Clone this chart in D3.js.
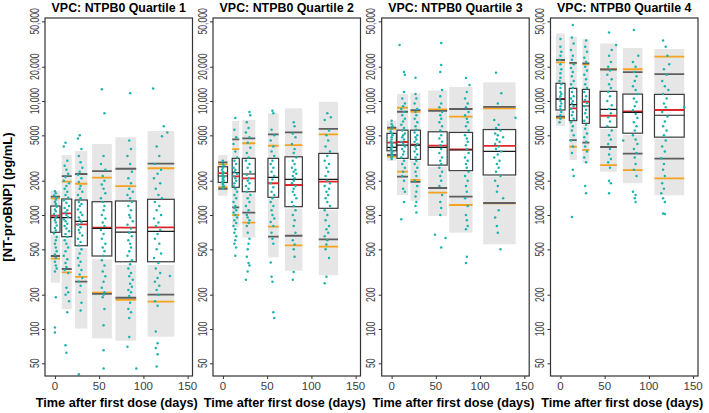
<!DOCTYPE html>
<html><head><meta charset="utf-8">
<script src="https://cdn.jsdelivr.net/npm/d3@7"></script>
<style>body{margin:0;background:#fff}svg{display:block}</style>
</head><body><svg id="c" width="709" height="413"></svg>
<script>
const titles = ["VPC: NTPB0 Quartile 1","VPC: NTPB0 Quartile 2","VPC: NTPB0 Quartile 3","VPC: NTPB0 Quartile 4"];
const xTicks = [0,50,100,150];
const yTicks = [50,100,200,500,1000,2000,5000,10000,20000,50000];
const xLabel = "Time after first dose (days)";
const yLabel = "[NT-proBNP] (pg/mL)";

// bin edges (days)
const binLo = [[-4.7,7.7,22.8,42,68.4,104.7],[-5.3,10.5,21.9,50.9,70.1,108.3],[-5.2,6.1,21.3,41.3,65.0,103.5],[-5.0,10.1,24.8,44.9,70.6,106.3]];
const binHi = [[5.8,19.0,36.7,64.3,91.9,134.9],[5.2,18.5,36.6,63.0,89.8,130.1],[5.4,18.6,32.6,62.8,91.5,140.2],[5.2,18.5,32.7,63.8,92.8,139.9]];
// shaded prediction region
const piHi = [[1633,3361,3640,4196,4806,5456],[3361,6680,6820,7800,8630,9850],[6720,11530,11700,12380,13260,14580],[39200,36500,34900,32000,29150,28600]];
const piLo = [[255,149,101,82.7,79,85.5],[1476,780,633,425,325,296],[2995,1500,1335,980,700,553],[6040,3040,2840,2400,1900,1490]];
// white inner region
const midHi = [[1199,1381,1354,1308,1327,1373],[2650,3140,3140,3140,3240,3470],[5200,5550,5550,5370,5300,5620],[14300,12900,12650,12150,11500,11430]];
const midLo = [[668,615,515,409,365,365],[1880,1700,1550,1380,1140,1100],[3560,3050,2980,2650,2380,2180],[8100,6500,6150,5700,5050,4680]];
// outlined box
const boxHi = [[1199,1381,1354,1308,1327,1373],[2650,3140,3140,3140,3240,3470],[5200,5550,5550,5370,5300,5620],[14300,12900,12650,12150,11500,11430]];
const boxLo = [[705,645,538,437,389,389],[1930,1750,1600,1430,1183,1145],[3660,3140,3075,2740,2450,2245],[8340,6720,6370,5880,5220,4820]];
// medians
const obsMed = [[947,947,880,765,709,719],[2200,2350,2290,2140,2055,2055],[3925,4110,4100,3925,3720,3620],[10400,9285,9040,8440,7950,7500]];
const predMed = [[985,1035,829,774,774,780],[2330,2185,2096,1900,1833,1960],[4310,4370,4140,4060,3760,4035],[10460,8630,9850,7430,8100,8340]];
// outer percentiles
const obsHi = [[1450,2198,2290,2430,2547,2819],[2900,4610,4700,5100,5310,5700],[5840,8050,8320,8210,8510,8900],[22900,21600,21400,18900,17900,17200]];
const obsLo = [[437,336,260,203,188,200],[1700,1168,1048,645,658,612],[3360,2170,1950,1725,1448,1275],[7300,4540,4310,3950,3450,3120]];
const predHi = [[1400,1960,1880,2124,1796,2571],[2780,3790,4260,4050,4100,5100],[5700,8730,8050,8450,7290,8620],[21800,21400,20950,19070,19000,24500]];
const predLo = [[414,314,287,208,180,174],[1760,1000,856,790,542,527],[3250,2400,2030,1570,1224,1265],[7100,3970,3720,2740,2480,2100]];

// observations [day, value]
const obsQ1 = [
[0,1620],[1,1550],[-1,1480],[2,1420],[1,1360],[0,1300],[1,1250],[2,1180],[0,1120],[1,1080],[-1,1020],[2,980],[1,940],[0,900],[1,860],[2,810],[0,770],[1,730],[-1,690],[2,640],[1,600],[0,560],[1,520],[2,480],[0,450],[1,420],[0,390],[1,360],[2,340],[0,320],[1,190],[0,103],[0,93],
[12,4300],[10,4000],[14,3000],[11,2700],[13,2500],[15,2300],[12,2150],[10,2000],[16,1900],[13,1800],[11,1700],[14,1600],[12,1500],[15,1420],[10,1350],[13,1280],[16,1200],[11,1150],[14,1100],[12,1050],[13,1000],[15,960],[10,920],[12,880],[14,840],[11,800],[13,760],[16,720],[12,680],[14,640],[11,600],[13,560],[15,520],[12,480],[10,440],[14,410],[12,380],[13,350],[11,330],[15,310],[13,230],[15,210],[12,200],[16,175],[14,140],[12,72],[13,62],
[28,5000],[26,4700],[30,3800],[27,3300],[29,2900],[31,2600],[28,2400],[26,2250],[30,2100],[27,1950],[29,1800],[28,1700],[31,1600],[26,1500],[29,1400],[27,1300],[30,1250],[28,1200],[26,1120],[29,1050],[31,1000],[27,950],[28,900],[30,860],[26,820],[29,780],[27,740],[28,700],[31,660],[26,620],[29,580],[27,540],[30,500],[28,460],[26,420],[29,390],[27,360],[30,330],[28,300],[31,280],[27,260],[29,240],[28,210],[30,170],[29,145],[27,40],
[53,12700],[56,7800],[55,3300],[52,2800],[57,2500],[54,2200],[56,2000],[53,1850],[55,1700],[57,1550],[52,1400],[54,1300],[56,1200],[55,1100],[53,1000],[57,930],[54,860],[56,800],[52,740],[55,680],[53,620],[57,560],[54,520],[56,480],[55,440],[53,400],[56,360],[54,320],[57,290],[55,260],[53,230],[56,210],[55,200],[54,190],[56,150],[55,108],[55,65],[55,45],
[85,11700],[84,4500],[86,3800],[82,3300],[85,2800],[87,2400],[83,2100],[86,1900],[84,1700],[88,1600],[82,1500],[85,1400],[87,1300],[83,1200],[86,1100],[84,1000],[85,950],[88,880],[82,820],[86,760],[84,700],[87,650],[83,600],[85,560],[86,520],[84,480],[82,440],[87,400],[85,370],[83,340],[86,310],[84,290],[88,270],[85,250],[87,235],[83,220],[86,210],[84,195],[85,170],[83,150],[86,140],[84,125],[84,85],[82,70],[92,45],
[111,12900],[123,6000],[127,5300],[121,4900],[115,4000],[118,3300],[113,2800],[120,2500],[116,2300],[112,2100],[119,1900],[114,1700],[117,1500],[121,1400],[113,1300],[118,1200],[115,1100],[120,1000],[112,930],[117,860],[114,800],[119,740],[116,680],[113,620],[118,560],[115,500],[120,460],[112,420],[117,380],[114,340],[119,310],[116,280],[113,260],[118,240],[115,220],[117,200],[113,175],[116,160],[114,95],[116,75],[114,68],[116,60],[115,47],[130,292]
];
const obsQ2 = [
[0,3000],[0,2800],[1,2700],[0,2600],[-1,2500],[0,2400],[1,2350],[0,2300],[0,2250],[-1,2200],[1,2150],[0,2100],[0,2050],[1,2000],[-1,1950],[0,1900],[0,1850],[1,1800],[0,1750],[0,1700],
[14,7100],[13,5600],[15,4800],[12,4200],[14,3600],[16,3200],[13,3000],[15,2800],[12,2600],[14,2500],[13,2400],[16,2300],[12,2200],[14,2100],[15,2000],[13,1900],[12,1800],[14,1700],[16,1600],[13,1500],[15,1400],[12,1300],[14,1200],[13,1150],[15,1100],[12,1050],[14,1000],[16,950],[13,900],[15,850],[12,800],[14,750],[13,700],[15,650],[14,600],[13,560],[15,520],[14,440],
[30,8000],[31,7500],[27,6500],[29,5800],[26,5300],[30,4800],[28,4300],[31,3900],[27,3500],[29,3200],[26,3000],[30,2800],[28,2600],[31,2400],[27,2250],[29,2100],[28,2000],[30,1900],[26,1800],[29,1700],[27,1600],[31,1500],[28,1400],[30,1300],[26,1200],[29,1100],[27,1000],[28,950],[30,900],[29,850],[27,800],[28,700],[30,620],[29,560],[28,500],[27,430],[29,380],[30,360],[28,320],[26,270],
[56,8200],[57,7800],[55,5600],[58,5000],[54,4500],[57,4000],[55,3600],[58,3300],[56,3000],[54,2800],[57,2600],[55,2400],[58,2200],[56,2050],[54,1900],[57,1750],[55,1600],[58,1500],[56,1400],[54,1300],[57,1200],[55,1100],[56,1000],[58,930],[54,870],[57,800],[55,700],[56,620],[57,560],[54,384],[55,288],[56,260],[57,140],[58,125],
[80,6500],[81,6000],[79,5200],[82,4800],[78,4200],[81,3800],[80,3500],[83,3200],[79,3000],[81,2800],[78,2600],[82,2500],[80,2400],[83,2300],[79,2200],[81,2100],[80,2000],[78,1900],[82,1800],[80,1700],[79,1600],[81,1500],[83,1400],[78,1300],[80,1200],[82,1100],[79,1000],[81,900],[80,800],[82,700],[79,600],[81,550],[80,500],[81,430],[80,316],[79,270],
[118,7800],[122,7200],[115,6800],[120,5500],[117,5000],[119,4500],[116,4000],[121,3600],[118,3300],[115,3000],[120,2800],[117,2600],[119,2400],[116,2200],[118,2000],[121,1900],[115,1800],[120,1700],[117,1600],[119,1500],[116,1400],[118,1300],[121,1200],[115,1100],[118,1000],[116,900],[120,800],[117,750],[119,700],[115,650],[118,600],[117,550],[116,500],[120,420],[117,288],[115,252]
];
const obsQ3 = [
[0,6700],[0,6300],[1,6000],[0,5700],[-1,5400],[0,5200],[1,5000],[0,4800],[0,4600],[-1,4400],[1,4300],[0,4200],[0,4100],[1,4000],[0,3900],[-1,3800],[0,3700],[1,3600],[0,3500],[0,3400],[1,3300],[0,3200],[0,3100],
[9,31000],[14,18000],[15,17000],[14,12000],[12,10500],[15,9500],[13,9000],[11,8500],[14,8000],[12,7500],[15,7000],[13,6600],[11,6200],[14,5800],[12,5500],[15,5200],[13,5000],[12,4800],[14,4600],[11,4400],[13,4200],[15,4000],[12,3800],[14,3600],[13,3400],[11,3200],[14,3000],[12,2800],[15,2600],[13,2400],[12,2200],[14,2000],[13,1700],[15,1600],[14,1300],[11,920],
[27,16000],[27,11500],[28,10500],[26,9500],[29,8500],[27,8000],[28,7500],[26,7000],[29,6500],[27,6000],[28,5600],[26,5300],[29,5000],[27,4800],[28,4600],[26,4400],[29,4200],[27,4000],[28,3800],[26,3600],[29,3400],[27,3200],[28,3000],[26,2800],[29,2600],[27,2400],[28,2200],[26,2000],[29,1800],[28,1600],[27,1450],[28,1300],[27,1200],[28,1050],
[56,32300],[56,20700],[55,18000],[57,12500],[55,11000],[56,9500],[54,8800],[57,8000],[55,7500],[56,7000],[54,6500],[57,6000],[55,5500],[56,5000],[54,4700],[57,4400],[55,4100],[56,3800],[54,3500],[57,3200],[55,3000],[56,2800],[54,2600],[57,2400],[55,2200],[56,2000],[54,1800],[57,1500],[55,1300],[56,1150],[55,1000],[49,670],[61,630],[56,520],
[84,15900],[88,13800],[85,12000],[83,10500],[86,9500],[84,8800],[87,8000],[83,7500],[85,7000],[86,6500],[84,6000],[87,5500],[83,5000],[85,4700],[86,4400],[84,4100],[85,3800],[87,3500],[83,3200],[86,3000],[84,2800],[85,2600],[87,2400],[83,2200],[86,2000],[84,1800],[85,1600],[83,1400],[86,1200],[84,1000],[85,900],[86,800],[84,750],[85,430],[84,380],
[118,17700],[124,11700],[120,9500],[140,7150],[116,6800],[121,6200],[118,5800],[123,5500],[117,5200],[120,5000],[126,4800],[119,4600],[122,4400],[117,4200],[121,4000],[118,3800],[124,3600],[120,3400],[116,3200],[122,3000],[119,2800],[121,2600],[118,2400],[123,2200],[117,2000],[120,1800],[119,1600],[126,1400],[121,1100],[117,950],[119,800],[120,700],[123,500]
];
const obsQ4 = [
[0,35000],[0,30000],[1,27000],[0,25000],[-1,23000],[0,21000],[1,19000],[0,17500],[0,16000],[-1,15000],[1,14000],[0,13000],[0,12000],[1,11500],[0,11000],[-1,10500],[0,10000],[1,9500],[0,9000],[0,8500],[1,8000],[0,7500],[0,7000],[-1,6500],
[14,46500],[13,36000],[15,32000],[12,28000],[14,25000],[13,23000],[15,21000],[12,19500],[14,18000],[13,16500],[15,15000],[12,14000],[14,13000],[13,12000],[15,11000],[12,10500],[14,10000],[13,9500],[15,9000],[12,8500],[14,8000],[13,7500],[15,7000],[12,6500],[14,6000],[13,5500],[15,5000],[12,4500],[14,4000],[13,3500],[14,2500],[15,2200],[13,960],
[29,34000],[28,30000],[30,27000],[27,24000],[29,22000],[28,20000],[30,18500],[27,17000],[29,15500],[28,14000],[30,13000],[27,12000],[29,11000],[28,10200],[30,9600],[27,9000],[29,8400],[28,7800],[30,7200],[27,6700],[29,6200],[28,5700],[30,5200],[27,4800],[29,4400],[28,4000],[30,3600],[27,3200],[29,2900],[28,1800],[29,1550],
[55,40000],[63,31000],[58,28000],[55,25000],[57,22000],[54,20000],[56,18500],[53,17000],[58,15500],[55,14000],[57,13000],[54,12000],[56,11000],[53,10000],[58,9200],[55,8500],[57,7800],[54,7200],[56,6600],[53,6000],[58,5500],[55,5000],[57,4600],[54,4200],[56,3800],[55,3400],[57,3100],[54,2900],[56,2600],[55,2000],[57,1900],[55,1550],
[83,42000],[88,25000],[82,22000],[85,20000],[83,18000],[86,16500],[84,15000],[82,13500],[85,12500],[87,11500],[83,10500],[86,9800],[84,9000],[82,8300],[85,7700],[87,7100],[83,6500],[86,6000],[84,5500],[82,5000],[85,4600],[87,4200],[83,3800],[86,3500],[84,3200],[85,2800],[83,2500],[86,2200],[82,1600],[85,1500],[84,1400],[85,1300],[71,4500],
[116,34000],[119,30000],[121,25000],[123,21000],[117,19000],[120,17000],[115,15000],[118,13500],[122,12500],[116,11500],[120,10500],[117,9500],[119,8800],[115,8000],[121,7300],[118,6600],[116,6000],[120,5500],[117,5000],[119,4500],[115,4000],[118,3600],[114,3140],[117,2800],[116,2500],[118,2200],[115,1900],[117,1700],[114,1550],[116,1400],[118,1300],[116,1030],[118,1020],[140,8800]
];
const observations = [obsQ1, obsQ2, obsQ3, obsQ4];

// ---------- drawing ----------
const FONT = "'Liberation Sans', Arial, Helvetica, sans-serif";
const svg = d3.select("#c");
const panelLeft = [45, 213, 381.7, 550.5], panelW = 147.5, plotTop = 18, plotBottom = 376;
const x = d3.scaleLinear().domain([-11.2, 155.5]).range([0, panelW]);
const y = d3.scaleLog().domain([38.7, 53500]).range([plotBottom, plotTop]);
const fmtY = v => v >= 10000 ? d3.format(",")(v) : String(v);

svg.append("defs").append("clipPath").attr("id","clip")
  .append("rect").attr("x",0).attr("y",plotTop).attr("width",panelW).attr("height",plotBottom-plotTop);

titles.forEach((title, p) => {
  const g = svg.append("g").attr("transform", `translate(${panelLeft[p]},0)`);
  const bins = d3.range(binLo[p].length);
  const inner = g.append("g").attr("clip-path","url(#clip)");

  inner.append("g").selectAll("rect").data(bins).join("rect")
    .attr("x", i => x(binLo[p][i])).attr("width", i => x(binHi[p][i]) - x(binLo[p][i]))
    .attr("y", i => y(piHi[p][i])).attr("height", i => y(piLo[p][i]) - y(piHi[p][i]))
    .attr("fill", "#E6E6E6");
  inner.append("g").selectAll("rect").data(bins).join("rect")
    .attr("x", i => x(binLo[p][i])).attr("width", i => x(binHi[p][i]) - x(binLo[p][i]))
    .attr("y", i => y(midHi[p][i])).attr("height", i => y(midLo[p][i]) - y(midHi[p][i]))
    .attr("fill", "#FFFFFF");

  const hline = (arr, color, w) => inner.append("g").selectAll("line").data(bins).join("line")
    .attr("x1", i => x(binLo[p][i])).attr("x2", i => x(binHi[p][i]))
    .attr("y1", i => y(arr[p][i])).attr("y2", i => y(arr[p][i]))
    .attr("stroke", color).attr("stroke-width", w);
  hline(predHi, "#F7A21E", 1.8);
  hline(predLo, "#F7A21E", 1.8);
  hline(obsHi, "#5E5E5E", 1.8);
  hline(obsLo, "#5E5E5E", 1.8);

  inner.append("g").selectAll("rect").data(bins).join("rect")
    .attr("x", i => x(binLo[p][i])).attr("width", i => x(binHi[p][i]) - x(binLo[p][i]))
    .attr("y", i => y(boxHi[p][i])).attr("height", i => y(boxLo[p][i]) - y(boxHi[p][i]))
    .attr("fill", "none").attr("stroke", "#3A3A3A").attr("stroke-width", 1.2);
  hline(predMed, "#E0262A", 1.8);
  hline(obsMed, "#1A1A1A", 1.2);

  inner.append("g").selectAll("circle").data(observations[p]).join("circle")
    .attr("cx", d => x(d[0])).attr("cy", d => y(d[1])).attr("r", 1.25)
    .attr("fill", "#1DB3AE");

  g.append("rect").attr("x",0).attr("y",plotTop).attr("width",panelW).attr("height",plotBottom-plotTop)
    .attr("fill","none").attr("stroke","#333").attr("stroke-width",1.2);

  const ya = g.append("g").call(d3.axisLeft(y).tickValues(yTicks).tickSize(3).tickFormat(""));
  ya.select(".domain").remove();
  ya.selectAll(".tick line").attr("stroke","#333");
  g.append("g").selectAll("text").data(yTicks).join("text")
    .attr("transform", d => `translate(-6.5,${y(d)}) rotate(-90) scale(0.72,1)`)
    .attr("text-anchor","middle").attr("font-family",FONT).attr("font-size","12px")
    .attr("fill","#3D3D3D").text(fmtY);

  const xa = g.append("g").attr("transform",`translate(0,${plotBottom})`)
    .call(d3.axisBottom(x).tickValues(xTicks).tickSize(3).tickFormat(""));
  xa.select(".domain").remove();
  xa.selectAll(".tick line").attr("stroke","#333");
  g.append("g").selectAll("text").data(xTicks).join("text")
    .attr("x", d => x(d)).attr("y", 390)
    .attr("text-anchor","middle").attr("font-family",FONT).attr("font-size","11.5px")
    .attr("fill","#3D3D3D").text(d => d);

  g.append("text").attr("x", panelW/2).attr("y", 11.5).attr("text-anchor","middle")
    .attr("font-family",FONT).attr("font-weight","bold").attr("font-size","12.4px").text(title);
  g.append("text").attr("x", panelW/2 - 2).attr("y", 407).attr("text-anchor","middle")
    .attr("font-family",FONT).attr("font-weight","bold").attr("font-size","12.7px").text(xLabel);
});

svg.append("text").attr("transform", `translate(12,197) rotate(-90)`).attr("text-anchor","middle")
  .attr("font-family",FONT).attr("font-weight","bold").attr("font-size","13px").text(yLabel);
</script>
</body></html>
